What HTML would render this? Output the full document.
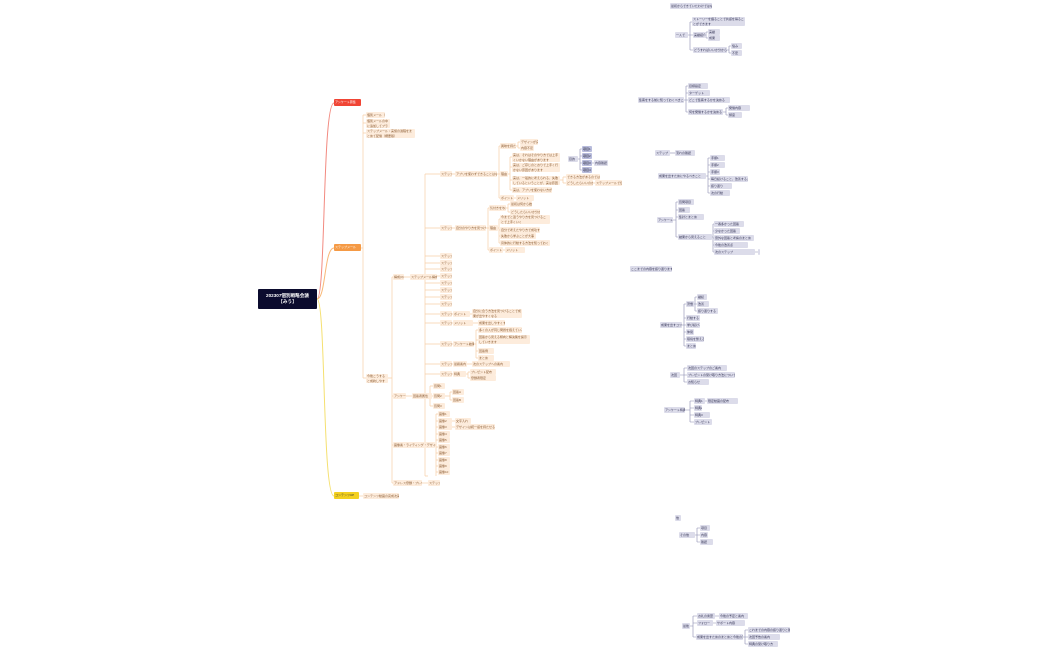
<!DOCTYPE html>
<html><head><meta charset="utf-8">
<style>
body{margin:0;width:1050px;height:650px;background:#fff;position:relative;overflow:hidden;font-family:"Liberation Sans","Noto Sans CJK JP",sans-serif}
.n{position:absolute;height:6px;font-size:3px;line-height:6px;white-space:nowrap;overflow:hidden;padding:0 1px;border-radius:1px;box-sizing:border-box}
.o{background:#fdecdc;color:#8a5a30}
.t{height:9px;line-height:4.5px;white-space:normal}
.p{background:#dcdcea;color:#333355}
.b{background:#b8bcdc;color:#223}
svg{position:absolute;left:0;top:0}
</style></head><body>
<svg width="1050" height="650" fill="none">
<g stroke="#f28a80" stroke-width="1"><path d="M317 299 C 326 299, 322 103, 334 103"/></g>
<g stroke="#f8b878" stroke-width="1"><path d="M317 299 C 326 299, 324 248, 334 248"/></g>
<g stroke="#f5e070" stroke-width="1"><path d="M317 299 C 326 299, 322 496, 334 496"/></g>
<g stroke="#f8cfa8" stroke-width="0.7">
<path d="M361 248 H363 M363 115 V378 M363 115 H366 M363 123 H366 M363 133 H366 M363 378 H366"/>
<path d="M388 378 H392 M392 277 V483 M392 277 H393 M392 396 H393 M392 445 H393 M392 483 H393"/>
<path d="M404 277 H410 M437 277 H425 M425 174 V476 M425 174 H440 M425 228 H440 M425 256 H440 M425 263 H440 M425 269 H440 M425 276 H440 M425 283 H440 M425 290 H440 M425 297 H440 M425 304 H440 M425 314 H440 M425 323 H440 M425 344 H440 M425 364 H440 M425 374 H440 M425 476 H428"/>
<path d="M406 396 H412 M432 396 H430 M430 386 V406 M430 386 H433 M430 396 H433 M430 406 H433 M445 396 H450 M450 392 V400 M450 392 H452 M450 400 H452"/>
<path d="M435 445 H436 M436 414 V476 M436 414 H438 M436 421 H438 M436 427 H438 M436 434 H438 M436 440 H438 M436 447 H438 M436 453 H438 M436 460 H438 M436 466 H438 M436 472 H438 M452 421 H455 M452 427 H455"/>
<path d="M422 483 H428"/>
<path d="M452 174 H455 M497 174 H499 M499 146 V198 M499 146 H500 M499 174 H500 M499 198 H500 M516 146 H518 M518 142 V148 M518 142 H520 M518 148 H520 M508 174 H510 M510 157 V190 M510 157 H512 M510 167 H512 M510 180 H512 M510 190 H512 M560 180 H563 M563 177 V183 M563 177 H566 M563 183 H566 M593 183 H595 M514 198 H516"/>
<path d="M452 228 H455 M486 228 H488 M488 208 V250 M488 208 H489 M488 228 H489 M488 250 H489 M506 208 H508 M508 204 V212 M508 204 H510 M508 212 H510 M498 228 H499 M499 219 V243 M499 219 H500 M499 230 H500 M499 236 H500 M499 243 H500 M503 250 H505"/>
<path d="M452 314 H453 M470 314 H472 M452 323 H453 M473 323 H478 M452 344 H453 M474 344 H476 M476 330 V358 M476 330 H478 M476 340 H478 M476 351 H478 M476 358 H478 M452 364 H453 M467 364 H472 M452 374 H453 M466 374 H468 M468 372 V378 M468 372 H470 M468 378 H470"/>
<path d="M359 496 H363"/>
</g>
<g stroke="#8a8cb0" stroke-width="0.6">
<path d="M578 159 H580 M580 149 V170 M580 149 H582 M580 156 H582 M580 163 H582 M580 170 H582 M592 163 H594"/>
<path d="M688 35 H690 M690 22 V50 M690 22 H692 M690 35 H693 M690 50 H693 M705 35 H706 M706 32 V38 M706 32 H708 M706 38 H708 M727 50 H729 M729 46 V53 M729 46 H731 M729 53 H731"/>
<path d="M684 100 H686 M686 86 V112 M686 86 H688 M686 93 H688 M686 100 H688 M686 112 H688 M723 112 H726 M726 108 V115 M726 108 H728 M726 115 H728"/>
<path d="M670 153 H675"/>
<path d="M706 176 H708 M708 158 V193 M708 158 H710 M708 165 H710 M708 172 H710 M708 179 H710 M708 186 H710 M708 193 H710"/>
<path d="M673 220 H676 M676 202 V237 M676 202 H678 M676 210 H678 M676 217 H678 M676 237 H678 M712 237 H713 M713 224 V252 M713 224 H714 M713 231 H714 M713 238 H714 M713 245 H714 M713 252 H714 M755 252 H758"/>
<path d="M682 325 H684 M684 304 V346 M684 304 H686 M684 318 H686 M684 325 H686 M684 332 H686 M684 339 H686 M684 346 H686 M694 304 H695 M695 297 V311 M695 297 H697 M695 304 H697 M695 311 H697"/>
<path d="M680 375 H684 M684 368 V382 M684 368 H687 M684 375 H687 M684 382 H687"/>
<path d="M685 410 H690 M690 401 V422 M690 401 H694 M690 408 H694 M690 415 H694 M690 422 H694 M705 401 H707"/>
<path d="M695 535 H697 M697 528 V542 M697 528 H700 M697 535 H700 M697 542 H700"/>
<path d="M690 626 H693 M693 616 V637 M693 616 H697 M693 623 H697 M693 637 H696 M715 616 H719 M713 623 H716 M743 637 H745 M745 630 V644 M745 630 H748 M745 637 H748 M745 644 H748"/>
</g>
</svg>

<div class="n" style="left:258px;top:289px;width:59px;height:20px;background:#0b0b2e;color:#fff;font-size:4.6px;line-height:6.5px;padding-top:3.5px;text-align:center;white-space:nowrap;font-weight:bold">202307個別戦略会議<br>【みう】</div>
<div class="n" style="left:334px;top:99px;width:27px;height:7px;background:#f04535;color:#fff">アンケート募集</div>
<div class="n" style="left:334px;top:244px;width:27px;height:7px;background:#f59a45;color:#fff">ステップメール</div>
<div class="n" style="left:334px;top:492px;width:25px;height:7px;background:#f3d020;color:#333">コンテンツUP</div>
<div class="n o" style="left:363px;top:493px;width:36px">コンテンツ動画の完成次第UP</div>

<div class="n o" style="left:366px;top:112px;width:19px">個別メール（未着）</div>
<div class="n o t" style="left:366px;top:119px;width:24px">個別メールの中に追加してプラスしていく</div>
<div class="n o t" style="left:366px;top:129px;width:49px">ステップメール：実施の過程をまとめて配信（概要版）</div>
<div class="n o t" style="left:366px;top:374px;width:22px">今後こうすると成約しやすいかの分析</div>

<div class="n o" style="left:393px;top:274px;width:11px">構成(3)</div>
<div class="n o" style="left:410px;top:274px;width:27px">ステップメール構成</div>
<div class="n o" style="left:393px;top:393px;width:13px">アンケート</div>
<div class="n o" style="left:412px;top:393px;width:20px">回答者属性</div>
<div class="n o" style="left:393px;top:442px;width:42px">画像案・ライティング・デザイン</div>
<div class="n o" style="left:393px;top:480px;width:29px">アドレス登録・プレゼント</div>
<div class="n o" style="left:428px;top:480px;width:12px">ステップ</div>

<div class="n o" style="left:440px;top:171px;width:12px">ステップ1</div>
<div class="n o" style="left:440px;top:225px;width:12px">ステップ2</div>
<div class="n o" style="left:440px;top:253px;width:12px">ステップ3</div>
<div class="n o" style="left:440px;top:260px;width:12px">ステップ4</div>
<div class="n o" style="left:440px;top:266px;width:12px">ステップ5</div>
<div class="n o" style="left:440px;top:273px;width:12px">ステップ6</div>
<div class="n o" style="left:440px;top:280px;width:12px">ステップ7</div>
<div class="n o" style="left:440px;top:287px;width:12px">ステップ8</div>
<div class="n o" style="left:440px;top:294px;width:12px">ステップ9</div>
<div class="n o" style="left:440px;top:301px;width:12px">ステップ10</div>
<div class="n o" style="left:440px;top:311px;width:12px">ステップ11</div>
<div class="n o" style="left:440px;top:320px;width:12px">ステップ12</div>
<div class="n o" style="left:440px;top:341px;width:12px">ステップ13</div>
<div class="n o" style="left:440px;top:361px;width:12px">ステップ14</div>
<div class="n o" style="left:440px;top:371px;width:12px">ステップ15</div>

<div class="n o" style="left:433px;top:383px;width:12px">質問1</div>
<div class="n o" style="left:433px;top:393px;width:12px">質問2</div>
<div class="n o" style="left:433px;top:403px;width:12px">質問3</div>
<div class="n o" style="left:452px;top:389px;width:12px">回答A</div>
<div class="n o" style="left:452px;top:397px;width:12px">回答B</div>
<div class="n o" style="left:438px;top:411px;width:12px">画像1</div>
<div class="n o" style="left:438px;top:418px;width:14px">画像2</div>
<div class="n o" style="left:438px;top:424px;width:14px">画像3</div>
<div class="n o" style="left:438px;top:431px;width:12px">画像4</div>
<div class="n o" style="left:438px;top:437px;width:12px">画像5</div>
<div class="n o" style="left:438px;top:444px;width:12px">画像6</div>
<div class="n o" style="left:438px;top:450px;width:12px">画像7</div>
<div class="n o" style="left:438px;top:457px;width:12px">画像8</div>
<div class="n o" style="left:438px;top:463px;width:12px">画像9</div>
<div class="n o" style="left:438px;top:469px;width:12px">画像10</div>
<div class="n o" style="left:455px;top:418px;width:16px">文字入れ</div>
<div class="n o" style="left:455px;top:424px;width:40px">デザインは統一感を持たせる</div>

<div class="n o" style="left:455px;top:171px;width:42px">アプリを使わずできることはなにか？</div>
<div class="n o" style="left:500px;top:143px;width:16px">興味を持たせる</div>
<div class="n o" style="left:520px;top:139px;width:18px">デザインが良くない</div>
<div class="n o" style="left:520px;top:145px;width:14px">内容不足</div>
<div class="n o" style="left:500px;top:171px;width:8px">理由</div>
<div class="n o t" style="left:512px;top:153px;width:48px">実は、それはそのやり方では上手くいかない理由があります</div>
<div class="n o t" style="left:512px;top:163px;width:48px">実は、ご存じのとおりで上手く行かない原因があります</div>
<div class="n o t" style="left:512px;top:176px;width:48px">実は、一般的に考えられる、失敗しているということが、実は原因です</div>
<div class="n o" style="left:512px;top:187px;width:40px">実は、アプリを使わない方がよい</div>
<div class="n o" style="left:566px;top:174px;width:34px">できる方法があるのでは？</div>
<div class="n o" style="left:566px;top:180px;width:27px">どうしたらいいのか？</div>
<div class="n o" style="left:595px;top:180px;width:27px">ステップメールで伝えます</div>
<div class="n o" style="left:500px;top:195px;width:14px">ポイント</div>
<div class="n o" style="left:516px;top:195px;width:18px">メリット</div>

<div class="n o" style="left:455px;top:225px;width:31px">自分のやり方を見つける</div>
<div class="n o" style="left:489px;top:205px;width:17px">気付きを与える</div>
<div class="n o" style="left:510px;top:201px;width:22px">最初は何から始める</div>
<div class="n o" style="left:510px;top:209px;width:30px">どうしたらいいか分からない</div>
<div class="n o" style="left:489px;top:225px;width:9px">理由</div>
<div class="n o t" style="left:500px;top:215px;width:50px">今までと違うやり方を見つけることで上手くいく</div>
<div class="n o" style="left:500px;top:227px;width:40px">自分で考えたやり方で成功する</div>
<div class="n o" style="left:500px;top:233px;width:36px">失敗から学ぶことが大事</div>
<div class="n o" style="left:500px;top:240px;width:50px">具体的に行動する方法を知っておく</div>
<div class="n o" style="left:489px;top:247px;width:14px">ポイント</div>
<div class="n o" style="left:505px;top:247px;width:20px">メリット</div>

<div class="n o" style="left:453px;top:311px;width:17px">ポイント</div>
<div class="n o t" style="left:472px;top:309px;width:50px">自分に合う方法を見つけることで成果が出やすくなる</div>
<div class="n o" style="left:453px;top:320px;width:20px">メリット</div>
<div class="n o" style="left:478px;top:320px;width:27px">成果を出しやすくする</div>
<div class="n o" style="left:453px;top:341px;width:21px">アンケート結果</div>
<div class="n o" style="left:478px;top:327px;width:44px">多くの人が同じ問題を抱えている</div>
<div class="n o t" style="left:478px;top:335px;width:52px">回答から見える傾向と解決策を提示していきます</div>
<div class="n o" style="left:478px;top:348px;width:16px">回答例</div>
<div class="n o" style="left:478px;top:355px;width:16px">まとめ</div>
<div class="n o" style="left:453px;top:361px;width:14px">最終案内</div>
<div class="n o" style="left:472px;top:361px;width:38px">次のステップへの案内</div>
<div class="n o" style="left:453px;top:371px;width:13px">特典</div>
<div class="n o" style="left:470px;top:369px;width:26px">プレゼント配布</div>
<div class="n o" style="left:470px;top:375px;width:26px">登録者限定</div>

<div class="n p" style="left:568px;top:156px;width:10px">目的</div>
<div class="n b" style="left:582px;top:146px;width:10px">項目1</div>
<div class="n b" style="left:582px;top:153px;width:10px">項目2</div>
<div class="n b" style="left:582px;top:160px;width:10px">項目3</div>
<div class="n b" style="left:582px;top:167px;width:10px">項目4</div>
<div class="n p" style="left:594px;top:160px;width:14px">内容確認</div>

<div class="n p" style="left:670px;top:3px;width:42px">最初からできていたわけではない</div>
<div class="n p" style="left:675px;top:32px;width:13px">一人で</div>
<div class="n p t" style="left:692px;top:17px;width:53px">ストーリーを語ることで共感を得ることができます</div>
<div class="n p" style="left:693px;top:32px;width:12px">実績紹介</div>
<div class="n p" style="left:708px;top:29px;width:12px">実績</div>
<div class="n p" style="left:708px;top:35px;width:12px">成果</div>
<div class="n p" style="left:693px;top:47px;width:34px">どうすればいいか分からない</div>
<div class="n p" style="left:731px;top:43px;width:11px">悩み</div>
<div class="n p" style="left:731px;top:50px;width:11px">不安</div>

<div class="n p" style="left:638px;top:97px;width:46px">集客をする前に知っておくべきこと</div>
<div class="n p" style="left:688px;top:83px;width:20px">目標設定</div>
<div class="n p" style="left:688px;top:90px;width:22px">ターゲット</div>
<div class="n p" style="left:688px;top:97px;width:42px">どこで集客するかを決める</div>
<div class="n p" style="left:688px;top:109px;width:35px">何を発信するかを決める</div>
<div class="n p" style="left:728px;top:105px;width:22px">発信内容</div>
<div class="n p" style="left:728px;top:112px;width:14px">頻度</div>

<div class="n p" style="left:655px;top:150px;width:15px">ステップ</div>
<div class="n p" style="left:675px;top:150px;width:20px">流れの確認</div>
<div class="n p" style="left:658px;top:173px;width:48px">成果を出すためにやるべきこと</div>
<div class="n p" style="left:710px;top:155px;width:15px">手順1</div>
<div class="n p" style="left:710px;top:162px;width:15px">手順2</div>
<div class="n p" style="left:710px;top:169px;width:10px">手順3</div>
<div class="n p" style="left:710px;top:176px;width:38px">毎日続けること、改善すること</div>
<div class="n p" style="left:710px;top:183px;width:22px">振り返り</div>
<div class="n p" style="left:710px;top:190px;width:20px">次の行動</div>

<div class="n p" style="left:657px;top:217px;width:16px">アンケート</div>
<div class="n p" style="left:678px;top:199px;width:16px">質問項目</div>
<div class="n p" style="left:678px;top:207px;width:12px">回答</div>
<div class="n p" style="left:678px;top:214px;width:26px">集計とまとめ</div>
<div class="n p" style="left:678px;top:234px;width:34px">結果から見えること</div>
<div class="n p" style="left:714px;top:221px;width:30px">一番多かった回答</div>
<div class="n p" style="left:714px;top:228px;width:26px">少なかった回答</div>
<div class="n p" style="left:714px;top:235px;width:40px">意外な回答と考察のまとめ</div>
<div class="n p" style="left:714px;top:242px;width:34px">今後の改善点</div>
<div class="n p" style="left:714px;top:249px;width:41px">次のステップ</div>
<div class="n p" style="left:758px;top:249px;width:2px"></div>

<div class="n p" style="left:630px;top:266px;width:42px">ここまでの内容を振り返ります</div>

<div class="n p" style="left:660px;top:322px;width:22px">成果を出すコツ</div>
<div class="n p" style="left:686px;top:301px;width:8px">習慣</div>
<div class="n p" style="left:697px;top:294px;width:10px">継続</div>
<div class="n p" style="left:697px;top:301px;width:12px">改善</div>
<div class="n p" style="left:697px;top:308px;width:21px">振り返りする</div>
<div class="n p" style="left:686px;top:315px;width:14px">行動する</div>
<div class="n p" style="left:686px;top:322px;width:14px">学び続ける</div>
<div class="n p" style="left:686px;top:329px;width:8px">仲間</div>
<div class="n p" style="left:686px;top:336px;width:18px">環境を整える</div>
<div class="n p" style="left:686px;top:343px;width:10px">まとめ</div>

<div class="n p" style="left:670px;top:372px;width:10px">次回</div>
<div class="n p" style="left:687px;top:365px;width:40px">次回のステップのご案内</div>
<div class="n p" style="left:687px;top:372px;width:48px">プレゼントの受け取り方法について</div>
<div class="n p" style="left:687px;top:379px;width:22px">お知らせ</div>

<div class="n p" style="left:664px;top:407px;width:21px">アンケート特典</div>
<div class="n p" style="left:694px;top:398px;width:11px">特典1</div>
<div class="n p" style="left:707px;top:398px;width:31px">限定動画の配布</div>
<div class="n p" style="left:694px;top:405px;width:8px">特典2</div>
<div class="n p" style="left:694px;top:412px;width:16px">特典3</div>
<div class="n p" style="left:694px;top:419px;width:18px">プレゼント</div>

<div class="n p" style="left:675px;top:515px;width:6px">他</div>
<div class="n p" style="left:679px;top:532px;width:16px">その他</div>
<div class="n p" style="left:700px;top:525px;width:10px">項目</div>
<div class="n p" style="left:700px;top:532px;width:8px">内容</div>
<div class="n p" style="left:700px;top:539px;width:13px">確認</div>

<div class="n p" style="left:682px;top:623px;width:8px">最後</div>
<div class="n p" style="left:697px;top:613px;width:18px">お礼の言葉</div>
<div class="n p" style="left:719px;top:613px;width:29px">今後の予定と案内</div>
<div class="n p" style="left:697px;top:620px;width:16px">フォロー</div>
<div class="n p" style="left:716px;top:620px;width:29px">サポート内容</div>
<div class="n p" style="left:696px;top:634px;width:47px">成果を出すためのまとめと今後の流れ</div>
<div class="n p" style="left:748px;top:627px;width:42px">これまでの内容の振り返りと確認</div>
<div class="n p" style="left:748px;top:634px;width:32px">次回予告の案内</div>
<div class="n p" style="left:748px;top:641px;width:30px">特典の受け取り方</div>
</body></html>
